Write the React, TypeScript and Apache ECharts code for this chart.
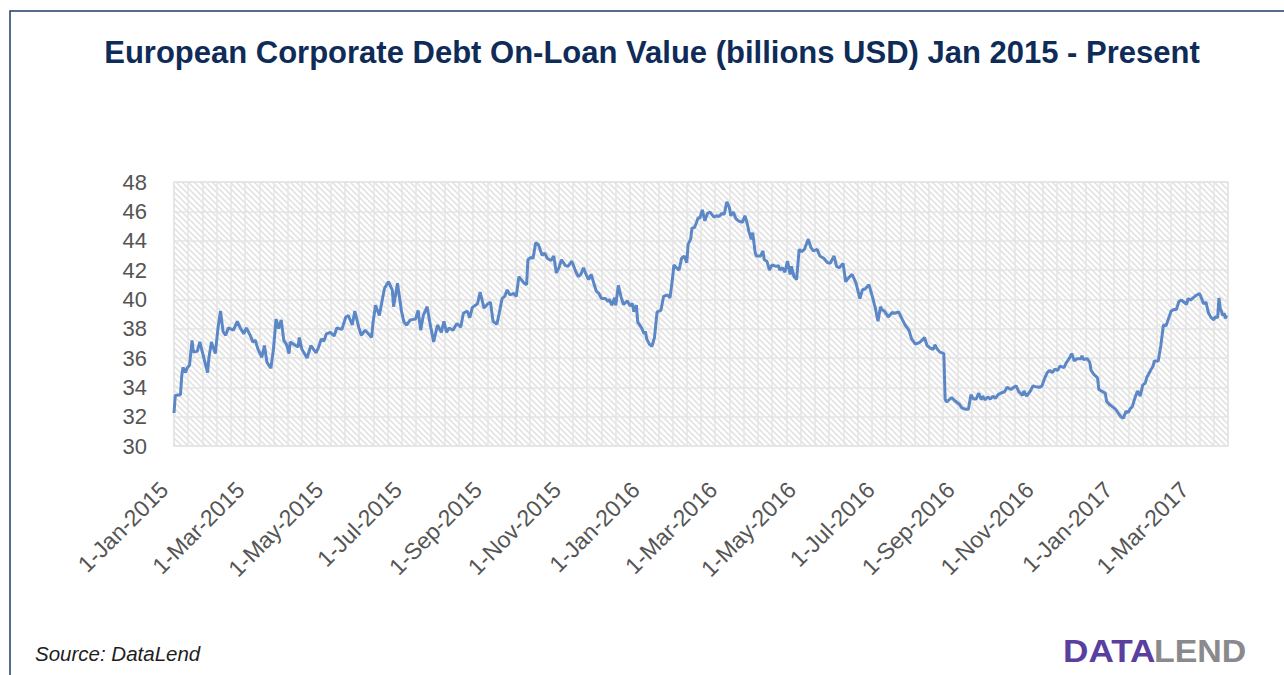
import React, { useEffect, useRef } from "react";
import * as echarts from "echarts";

const TITLE = "European Corporate Debt On-Loan Value (billions USD) Jan 2015 - Present";
const SOURCE = "Source: DataLend";
const LOGO_A = "DATA";
const LOGO_B = "LEND";

// x axis: days after 1-Jan-2015
const X_MAX_DAY = 816;
const V_GRID_COUNT = 74;
const Y_MIN = 30;
const Y_MAX = 48;
const Y_STEP = 2;

const tickLabels = [
  "1-Jan-2015", "1-Mar-2015", "1-May-2015", "1-Jul-2015", "1-Sep-2015", "1-Nov-2015",
  "1-Jan-2016", "1-Mar-2016", "1-May-2016", "1-Jul-2016", "1-Sep-2016", "1-Nov-2016",
  "1-Jan-2017", "1-Mar-2017",
];

const dayOffsets = [
  0, 1, 5, 6, 7, 9, 10, 12, 14, 15, 18, 20, 23, 26, 27, 29, 32, 34, 36, 38,
  40, 42, 46, 49, 51, 54, 56, 59, 61, 63, 65, 68, 70, 72, 75, 77, 79, 81, 83, 85,
  87, 89, 90, 94, 96, 97, 99, 103, 106, 110, 112, 114, 116, 118, 121, 124, 126, 130, 133, 135,
  138, 140, 143, 145, 148, 150, 153, 154, 156, 159, 161, 163, 166, 169, 170, 173, 176, 178, 180, 183,
  187, 189, 191, 193, 196, 198, 201, 204, 207, 209, 211, 213, 216, 219, 222, 224, 227, 229, 231, 235,
  237, 240, 243, 245, 247, 250, 252, 254, 256, 258, 260, 263, 265, 267, 271, 273, 274, 276, 278, 280,
  282, 285, 287, 289, 292, 294, 296, 298, 300, 303, 305, 308, 311, 313, 315, 317, 319, 321, 323, 325,
  327, 329, 331, 334, 336, 337, 339, 341, 342, 344, 346, 348, 351, 353, 355, 356, 358, 359, 362, 364,
  365, 366, 368, 370, 372, 374, 377, 379, 382, 384, 386, 387, 389, 391, 393, 395, 397, 398, 400, 401,
  403, 406, 407, 409, 411, 413, 415, 418, 420, 422, 424, 426, 428, 430, 431, 433, 435, 437, 440, 442,
  444, 445, 447, 448, 450, 451, 454, 456, 457, 459, 461, 463, 466, 468, 469, 471, 473, 475, 477, 478,
  480, 482, 484, 486, 488, 491, 493, 495, 498, 500, 503, 506, 508, 511, 513, 515, 518, 520, 522, 525,
  528, 531, 533, 535, 538, 540, 543, 545, 547, 548, 550, 553, 556, 558, 561, 564, 566, 569, 571, 574,
  577, 579, 581, 583, 586, 588, 589, 591, 593, 596, 597, 598, 600, 602, 605, 608, 610, 613, 615, 617,
  619, 621, 623, 625, 626, 628, 630, 632, 634, 636, 638, 640, 643, 645, 648, 650, 652, 654, 657, 658,
  660, 663, 665, 667, 670, 672, 674, 676, 678, 680, 682, 684, 686, 689, 691, 693, 695, 697, 699, 702,
  703, 704, 707, 709, 710, 712, 715, 716, 718, 721, 722, 724, 727, 729, 731, 733, 735, 737, 739, 740,
  742, 744, 746, 748, 750, 752, 753, 756, 758, 759, 762, 764, 765, 766, 768, 770, 772, 774, 776, 778,
  780, 782, 784, 785, 787, 789, 791, 793, 794, 796, 797, 799, 800, 801, 803, 805, 806, 808, 809, 810,
  812, 813, 814, 815,
];

const onLoanValues = [
  32.25, 33.45, 33.5, 34.8, 35.35, 35.0, 35.3, 35.5, 37.2, 36.4, 36.45, 37.1, 36.05, 35.0, 36.0, 37.1, 36.3, 38.0, 39.2, 37.8,
  37.55, 38.05, 37.9, 38.5, 38.1, 37.65, 38.05, 37.55, 37.1, 37.2, 36.6, 36.05, 36.85, 35.7, 35.3, 36.6, 38.65, 38.0, 38.6, 37.2,
  36.95, 36.3, 37.1, 36.85, 36.75, 37.4, 36.6, 36.0, 36.85, 36.35, 36.75, 37.3, 37.15, 37.65, 37.75, 37.5, 38.05, 37.95, 38.8, 38.9,
  38.25, 39.2, 38.1, 37.55, 37.9, 37.7, 37.4, 38.35, 39.6, 38.9, 39.85, 40.75, 41.2, 40.65, 39.5, 41.1, 39.25, 38.45, 38.25, 38.6,
  38.65, 39.25, 37.9, 38.9, 39.5, 38.45, 37.1, 38.25, 37.75, 38.5, 37.75, 38.05, 37.9, 38.35, 38.1, 39.05, 39.2, 38.75, 39.45, 39.7,
  40.5, 39.4, 39.7, 39.8, 38.5, 38.3, 39.15, 40.05, 40.2, 40.65, 40.3, 40.4, 40.2, 41.55, 41.1, 41.0, 42.7, 42.85, 42.8, 43.85,
  43.75, 43.0, 43.15, 42.8, 42.65, 42.95, 41.8, 42.15, 42.7, 42.3, 42.25, 42.6, 41.9, 41.55, 41.7, 42.15, 41.7, 41.35, 41.7, 41.1,
  40.55, 40.4, 40.05, 40.05, 39.85, 40.0, 39.6, 40.1, 39.6, 40.95, 40.2, 39.65, 39.9, 39.55, 39.7, 39.15, 39.6, 38.45, 38.05, 37.65,
  37.8, 37.3, 36.95, 36.8, 37.4, 39.15, 39.25, 40.2, 40.3, 40.1, 41.45, 42.35, 42.15, 42.0, 42.8, 42.95, 42.5, 43.75, 44.1, 44.85,
  44.9, 45.6, 45.5, 46.1, 45.35, 45.85, 45.95, 45.6, 45.7, 45.65, 45.85, 45.8, 46.65, 46.25, 45.7, 45.95, 45.5, 45.35, 45.25, 45.7,
  45.1, 44.65, 44.1, 44.55, 43.15, 42.95, 42.95, 43.3, 42.7, 42.6, 42.0, 42.35, 42.25, 42.3, 42.0, 42.15, 41.85, 42.6, 41.7, 42.25,
  41.55, 41.35, 43.4, 43.25, 43.4, 44.1, 43.55, 43.3, 43.4, 42.95, 42.8, 42.5, 42.45, 42.95, 42.25, 42.15, 42.45, 41.2, 41.45, 41.7,
  41.1, 40.05, 40.65, 40.7, 41.0, 40.4, 39.4, 38.5, 39.5, 39.3, 39.2, 38.8, 39.1, 39.05, 39.15, 38.6, 38.25, 37.9, 37.3, 36.95,
  37.05, 37.2, 37.4, 36.85, 36.65, 36.6, 36.9, 36.6, 36.4, 36.3, 33.2, 33.0, 33.15, 33.3, 33.05, 32.85, 32.6, 32.5, 32.5, 33.5,
  33.2, 33.2, 33.6, 33.15, 33.4, 33.15, 33.35, 33.2, 33.4, 33.25, 33.5, 33.6, 33.7, 34.0, 33.85, 34.0, 34.1, 33.7, 33.45, 33.75,
  33.4, 33.75, 34.1, 34.05, 34.0, 34.1, 34.6, 35.0, 35.15, 35.0, 35.25, 35.15, 35.45, 35.35, 35.7, 35.95, 36.3, 35.8, 35.95, 35.95,
  36.15, 35.9, 35.95, 35.7, 35.15, 34.9, 34.65, 33.85, 33.75, 33.6, 33.05, 32.85, 32.65, 32.5, 32.25, 32.0, 31.9, 32.35, 32.3, 32.5,
  32.7, 33.3, 33.75, 33.4, 34.15, 34.3, 34.65, 35.15, 35.45, 35.8, 35.8, 36.85, 37.55, 38.25, 38.2, 38.7, 39.2, 39.3, 39.3, 39.85,
  39.95, 39.8, 39.65, 40.05, 39.95, 40.1, 40.25, 40.35, 40.4, 39.95, 39.7, 39.8, 39.4, 39.05, 38.75, 38.6, 38.8, 38.75, 40.1, 39.4,
  38.9, 39.05, 38.7, 38.9,
];

const MONTHS = ["Jan", "Feb", "Mar", "Apr", "May", "Jun", "Jul", "Aug", "Sep", "Oct", "Nov", "Dec"];
const BASE = Date.UTC(2015, 0, 1);
function labelToDay(label: string): number {
  const [d, m, y] = label.split("-");
  const t = Date.UTC(Number(y), MONTHS.indexOf(m), Number(d));
  return Math.round((t - BASE) / 86400000);
}
const tickDays = tickLabels.map(labelToDay);

function makeHatch(): HTMLCanvasElement {
  const c = document.createElement("canvas");
  c.width = 6;
  c.height = 6;
  const ctx = c.getContext("2d")!;
  ctx.fillStyle = "#ffffff";
  ctx.fillRect(0, 0, 6, 6);
  ctx.strokeStyle = "#e3e3e3";
  ctx.lineWidth = 1.6;
  ctx.beginPath();
  ctx.moveTo(-1, -1);
  ctx.lineTo(7, 7);
  ctx.moveTo(-1, 5);
  ctx.lineTo(1, 7);
  ctx.moveTo(5, -1);
  ctx.lineTo(7, 1);
  ctx.stroke();
  return c;
}

const FONT = "Liberation Sans, Arial, Helvetica, sans-serif";
const GRID_COLOR = "#e4e4e4";
const LABEL_COLOR = "#555555";

export default function App() {
  const ref = useRef<HTMLDivElement>(null);
  useEffect(() => {
    if (!ref.current) return;
    const chart = echarts.init(ref.current, undefined, { renderer: "svg" });
    const hatch = makeHatch();
    const option: any = {
      animation: false,
      backgroundColor: "#ffffff",
      grid: {
        left: 174,
        right: 56,
        top: 182,
        bottom: 229,
        show: true,
        backgroundColor: { image: hatch, repeat: "repeat", imageWidth: 6, imageHeight: 6 },
        borderColor: GRID_COLOR,
        borderWidth: 1.5,
        containLabel: false,
        outerBoundsMode: "none",
      },
      xAxis: [
        {
          type: "value",
          min: 0,
          max: X_MAX_DAY,
          axisLine: { show: false },
          axisTick: { show: false },
          splitLine: { show: false },
          axisLabel: {
            customValues: tickDays,
            rotate: 45,
            margin: 30,
            padding: [0, 14, 0, 0],
            fontSize: 23,
            color: LABEL_COLOR,
            fontFamily: FONT,
            formatter: (v: number) => {
              const i = tickDays.indexOf(Math.round(v));
              return i >= 0 ? tickLabels[i] : "";
            },
          },
        },
        {
          type: "value",
          position: "top",
          min: 0,
          max: V_GRID_COUNT,
          interval: 1,
          axisLine: { show: false },
          axisTick: { show: false },
          axisLabel: { show: false },
          splitLine: { show: true, lineStyle: { color: GRID_COLOR, width: 1.5 } },
        },
      ],
      yAxis: {
        type: "value",
        min: Y_MIN,
        max: Y_MAX,
        interval: Y_STEP,
        axisLine: { show: false },
        axisTick: { show: false },
        axisLabel: { fontSize: 22, color: LABEL_COLOR, margin: 27, fontFamily: FONT },
        splitLine: { show: true, lineStyle: { color: GRID_COLOR, width: 1.5 } },
      },
      series: [
        {
          type: "line",
          xAxisIndex: 0,
          data: dayOffsets.map((d, i) => [d, onLoanValues[i]]),
          showSymbol: false,
          symbol: "none",
          lineStyle: { color: "#5b87c6", width: 3 },
          itemStyle: { color: "#5b87c6" },
        },
      ],
      graphic: [
        {
          type: "rect",
          shape: { x: 10, y: 11, width: 1400, height: 800 },
          style: { fill: "none", stroke: "#1f3c6a", lineWidth: 1.5 },
          silent: true,
        },
        {
          type: "text",
          x: 652,
          y: 52,
          style: {
            text: TITLE,
            fill: "#0f2c58",
            font: `bold 31px ${FONT}`,
            textAlign: "center",
            textVerticalAlign: "middle",
          },
        },
        {
          type: "text",
          x: 35,
          y: 653,
          style: {
            text: SOURCE,
            fill: "#1e1e1e",
            font: `italic 20.5px ${FONT}`,
            textAlign: "left",
            textVerticalAlign: "middle",
          },
        },
        {
          type: "text",
          x: 1063,
          y: 651,
          scaleX: 1.1,
          style: {
            text: LOGO_A,
            fill: "#5b3f9f",
            font: `bold 32px ${FONT}`,
            textAlign: "left",
            textVerticalAlign: "middle",
          },
        },
        {
          type: "text",
          x: 1154,
          y: 651,
          scaleX: 1.06,
          style: {
            text: LOGO_B,
            fill: "#8a8a8c",
            font: `bold 32px ${FONT}`,
            textAlign: "left",
            textVerticalAlign: "middle",
          },
        },
      ],
    };
    chart.setOption(option);
    return () => chart.dispose();
  }, []);
  return (
    <div
      ref={ref}
      style={{ position: "absolute", left: 0, top: 0, width: 1284, height: 675 }}
    />
  );
}
